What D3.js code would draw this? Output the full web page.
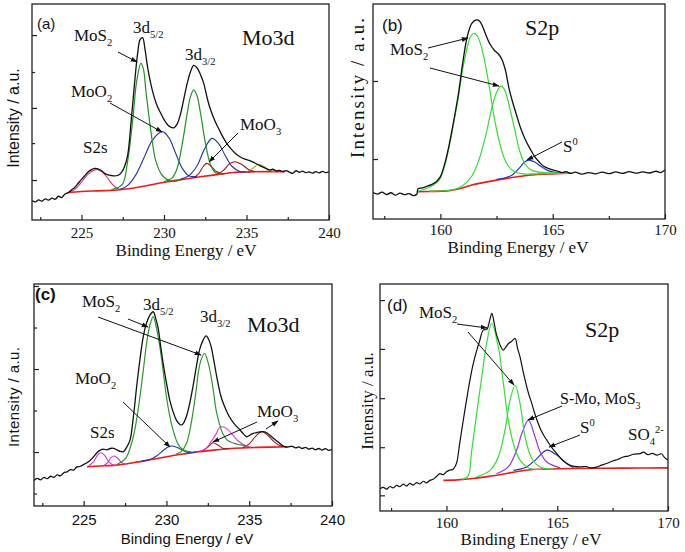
<!DOCTYPE html>
<html><head><meta charset="utf-8">
<script src="https://cdn.jsdelivr.net/npm/d3@7"></script>
<style>body{margin:0;background:#fff}</style>
</head><body>
<svg id="chart" width="685" height="552"></svg>
<script>
// ---------------- DATA ----------------
const xTicksMo = [225, 230, 235, 240];
const xMinorMo = [222.5, 227.5, 232.5, 237.5];
const xTicksS = [160, 165, 170];
const xMinorS = [157.5, 162.5, 167.5];
const xTickLabelsMo = ["225", "230", "235", "240"];
const xTickLabelsS = ["160", "165", "170"];

// panel (a) Mo3d
const aSpectrum = [[222.0,9.0],[222.2,8.4],[222.4,9.3],[222.6,8.7],[222.8,9.8],[223.0,9.2],[223.2,10.1],[223.4,9.6],[223.6,11.0],[223.8,10.4],[224.0,12.0],[224.2,12.6],[224.4,14.0],[224.6,15.2],[224.8,17.0],[225.0,18.8],[225.2,20.5],[225.4,22.2],[225.6,23.3],[225.8,23.9],[226.0,23.7],[226.2,22.9],[226.4,21.6],[226.6,20.9],[226.8,20.6],[227.0,20.4],[227.2,20.6],[227.4,21.8],[227.6,24.5],[227.8,30],[228.0,45],[228.2,62],[228.4,77],[228.55,83.5],[228.7,84.4],[228.85,79],[229.0,71],[229.2,63],[229.4,57],[229.6,52.5],[229.8,49.5],[230.0,46.5],[230.2,44.2],[230.4,43],[230.6,42.7],[230.8,44.5],[231.0,49],[231.2,56],[231.4,63],[231.6,68.5],[231.8,71.6],[232.0,70.5],[232.2,67.5],[232.4,63.5],[232.6,57],[232.8,51.5],[233.0,47.5],[233.2,44],[233.4,41],[233.6,38],[233.8,35.5],[234.0,33.5],[234.3,31],[234.6,29.3],[234.9,28.2],[235.2,27.5],[235.5,26.4],[235.8,25.2],[236.0,24.5],[236.2,23.8],[236.4,23.2],[236.6,23.5],[236.8,22.7],[237.0,23.0],[237.2,22.4],[237.4,22.9],[237.6,22.2],[237.8,21.6],[238.0,22.8],[238.2,22.1],[238.4,22.6],[238.6,21.9],[238.8,22.3],[239.0,21.7],[239.2,22.4],[239.4,21.8],[239.6,22.5],[239.8,21.9],[240.0,22.3]];
const aBaseline = [[224.1,12.6],[225,13.2],[226,13.5],[227,13.8],[228.1,14.7],[229,16.0],[230.2,17.7],[231.2,18.9],[232.2,20.0],[233.2,21.0],[234.2,22.0],[235.2,22.3],[236.3,22.4],[237.3,22.4]];
const aS2s = [[224.2,12.6],[224.6,14.2],[225.0,17.5],[225.4,21.2],[225.8,23.2],[226.0,23.3],[226.3,22.0],[226.6,19.2],[226.9,16.3],[227.2,14.5],[227.5,14.0]];
const aMoS2d52 = [[226.8,14],[227.2,15],[227.5,16.7],[227.8,27.3],[228.1,46],[228.35,64.5],[228.6,72.5],[228.75,70],[228.9,60],[229.2,41.4],[229.5,27.5],[229.9,20.6],[230.5,17.9],[231.0,18.6]];
const aMoS2d32 = [[230.0,17.8],[230.5,19.5],[230.8,24],[231.1,35],[231.4,49],[231.6,57],[231.8,60.2],[232.0,57.5],[232.2,50],[232.5,36],[232.8,26],[233.1,22],[233.5,21.2]];
const aMoO2a = [[227.3,14],[227.8,16],[228.3,21],[228.8,29],[229.3,37],[229.9,40.9],[230.3,38],[230.7,31],[231.1,24],[231.5,20.5],[232.0,20.1]];
const aMoO2b = [[231.0,18.9],[231.5,20.5],[232.0,25],[232.4,32],[232.9,37.8],[233.3,35.5],[233.7,30],[234.1,25],[234.6,22.5],[235.2,22.3]];
const aMoO3a = [[231.8,19.5],[232.1,21.5],[232.4,25],[232.6,26.2],[232.9,24.5],[233.2,22.3],[233.6,21.3]];
const aMoO3b = [[233.2,21],[233.6,23],[234.0,26.2],[234.3,27],[234.7,25.8],[235.1,23.5],[235.5,22.4]];
const aExtra = [[235.0,22.3],[235.4,24],[235.7,25.8],[236.0,25],[236.4,23],[236.8,22.4]];

// panel (b) S2p
const bSpectrum = [[157.0,12.3],[157.2,11.6],[157.4,12.5],[157.6,11.4],[157.8,12.2],[158.0,11.1],[158.2,12.0],[158.4,11.3],[158.6,11.8],[158.8,10.9],[158.95,11.5],[159.0,14.0],[159.2,14.5],[159.4,15.2],[159.6,16.0],[159.8,17.2],[160.0,19.7],[160.2,26],[160.4,35],[160.6,46],[160.8,58],[161.0,73],[161.2,85],[161.4,91],[161.6,92.6],[161.75,92],[161.9,89],[162.05,85],[162.2,81.5],[162.4,78.5],[162.6,76.5],[162.75,74],[162.9,69],[163.05,61],[163.2,55],[163.4,48],[163.6,41.5],[163.8,36.5],[164.0,32.5],[164.2,29],[164.4,26.5],[164.6,24.5],[164.8,23.5],[165.0,22.8],[165.2,22.3],[165.4,21.6],[165.6,22.0],[165.8,21.2],[166.0,21.8],[166.3,20.9],[166.6,21.6],[166.9,21.0],[167.2,21.8],[167.5,21.1],[167.8,21.9],[168.1,21.2],[168.4,22.0],[168.7,21.3],[169.0,21.9],[169.3,21.4],[169.6,22.2],[169.8,21.6],[170.0,22.8]];
const bBaseline = [[158.98,12.7],[159.5,12.8],[160.4,13.2],[160.9,14.2],[161.4,15.8],[162.2,17.5],[162.97,18.9],[163.6,19.9],[164.2,20.6],[165.0,21.0],[165.8,21.3]];
const bMoS2a = [[159.0,12.9],[159.4,14.2],[159.8,16.6],[160.0,19.0],[160.2,25],[160.4,34],[160.6,45],[160.8,56.5],[161.0,70],[161.2,80],[161.35,85],[161.5,86.4],[161.65,85],[161.8,81],[162.0,72],[162.2,60],[162.4,47],[162.6,37],[162.8,29.5],[163.0,25],[163.3,22],[163.7,21],[164.2,21],[164.8,21.2],[165.8,21.3]];
const bMoS2b = [[159.5,13.0],[160.5,13.5],[161.0,15.5],[161.4,20],[161.7,27],[162.0,38],[162.3,52],[162.55,60],[162.72,61.9],[162.9,59],[163.1,51],[163.3,42],[163.55,31],[163.8,25],[164.1,22.5],[164.6,21.6],[165.2,21.4],[165.8,21.3]];
const bS0 = [[162.5,18.5],[162.9,19.2],[163.2,20.5],[163.5,23.5],[163.75,26.5],[163.94,27.4],[164.2,26.5],[164.5,24.3],[164.8,22.5],[165.2,21.5],[165.8,21.3]];

// panel (c) Mo3d
const cSpectrum = [[222.0,11.5],[222.2,12.4],[222.4,11.8],[222.6,12.9],[222.8,12.3],[223.0,13.4],[223.2,12.9],[223.4,14.0],[223.6,13.6],[223.8,15.0],[224.0,15.4],[224.2,16.4],[224.4,16.2],[224.6,17.6],[224.8,17.9],[225.0,18.7],[225.2,19.5],[225.4,20.6],[225.6,22.2],[225.8,24],[226.0,25.2],[226.2,25.6],[226.4,25.3],[226.6,25.9],[226.8,26],[227.0,25.3],[227.2,24.6],[227.4,24.5],[227.6,26.5],[227.8,29.7],[228.0,40],[228.2,53.7],[228.4,66],[228.6,76.3],[228.8,82.5],[229.0,86],[229.2,87.5],[229.35,84.5],[229.5,80],[229.65,72],[229.8,64.3],[230.0,55.5],[230.2,47.7],[230.4,42.5],[230.6,38.7],[230.8,36.8],[230.9,36.5],[231.0,37],[231.2,40.2],[231.4,46],[231.6,53.7],[231.8,62.5],[232.0,70.3],[232.2,74.5],[232.4,76.6],[232.55,75],[232.7,71.8],[232.85,66],[233.0,59.8],[233.15,54],[233.3,49.2],[233.5,45],[233.8,40.2],[234.1,37],[234.45,34.2],[234.65,32.5],[234.85,31.2],[235.05,32],[235.25,32.7],[235.5,33.2],[235.86,33.5],[236.1,32.8],[236.46,30.5],[236.8,28.5],[237.06,27],[237.3,26.5],[237.6,26.9],[237.8,26.2],[238.0,26.6],[238.2,25.9],[238.4,26.4],[238.6,25.6],[238.8,26.1],[239.0,25.3],[239.2,25.9],[239.4,25.2],[239.6,25.8],[239.8,25.1],[240.0,25.5]];
const cBaseline = [[225.2,17.7],[226.0,18.0],[227.0,18.4],[228.0,19.5],[229.0,20.8],[230.0,22.2],[231.0,23.4],[232.0,24.5],[233.0,25.3],[234.1,26.0],[235.5,26.4],[237.3,26.7]];
const cMoS2d52 = [[227.0,18.6],[227.4,20.5],[227.6,22.2],[227.8,26],[228.0,31.2],[228.2,39],[228.4,49.2],[228.6,61],[228.8,73.3],[229.0,81.5],[229.2,85.3],[229.4,80],[229.6,71.8],[229.8,61],[230.0,49.2],[230.2,40.5],[230.4,34.2],[230.6,29.5],[230.8,26.7],[231.1,25],[231.5,24.4]];
const cMoS2d32 = [[230.6,23.5],[230.9,24.5],[231.2,28],[231.4,33.5],[231.6,42],[231.8,52.5],[231.95,61.3],[232.1,66],[232.3,68.8],[232.5,65],[232.7,58.2],[232.85,51],[233.0,43.2],[233.2,37],[233.4,32.7],[233.7,29.5],[234.1,28.2],[234.5,27.5],[234.9,27]];
const cMoO2 = [[228.5,20.2],[229.0,20.9],[229.4,22.5],[229.8,25],[230.1,26.6],[230.35,27],[230.7,26.2],[231.0,25],[231.4,24],[231.8,24.3]];
const cS2sA = [[225.3,18.0],[225.6,20],[225.85,23],[226.05,24],[226.3,22.5],[226.5,20],[226.8,18.5],[227.1,18.4]];
const cS2sB = [[226.2,18.1],[226.45,19.5],[226.65,21.8],[226.85,22.5],[227.05,21.5],[227.3,19.5],[227.6,18.8]];
const cMoO3pink = [[232.0,24.6],[232.4,26],[232.7,29],[233.0,32.5],[233.2,35.2],[233.4,35.7],[233.7,34.5],[234.0,32],[234.3,29.5],[234.7,27.5],[235.1,26.5]];
const cMoO3a = [[232.2,24.8],[232.5,26.5],[232.8,28.5],[233.1,27.5],[233.4,26],[233.8,25.8]];
const cMoO3b = [[234.6,26.2],[235.0,28],[235.4,31.5],[235.76,33.5],[236.1,32],[236.5,29],[236.9,27],[237.3,26.7]];

// panel (d) S2p
const dSpectrum = [[157.0,9.8],[157.15,10.4],[157.3,9.6],[157.45,10.8],[157.6,10.2],[157.75,11.3],[157.9,10.7],[158.05,11.8],[158.2,11.0],[158.35,12.2],[158.5,11.4],[158.65,12.5],[158.8,11.9],[158.95,13.1],[159.1,12.4],[159.25,13.5],[159.4,14.0],[159.55,15.2],[159.7,16.5],[159.85,16.0],[160.0,17.3],[160.15,18.0],[160.3,18.4],[160.45,20.9],[160.6,30],[160.76,40],[160.9,48.5],[161.06,57.7],[161.2,64.5],[161.37,70.9],[161.5,75],[161.66,79.7],[161.82,80],[161.95,84],[162.05,87.1],[162.15,83],[162.25,78],[162.34,75.3],[162.45,72.5],[162.57,70.9],[162.7,72.5],[162.8,73.8],[162.95,74.8],[163.1,76],[163.2,72],[163.32,67.9],[163.45,62],[163.55,57.7],[163.7,52],[163.85,47.4],[164.0,42.5],[164.2,37.1],[164.35,34],[164.53,31.2],[164.75,28],[164.98,25.3],[165.2,22.8],[165.43,20.9],[165.7,19.8],[166.03,19.4],[166.3,19.6],[166.5,19.0],[166.78,19.3],[167.0,20.2],[167.23,20.9],[167.5,22.0],[167.75,22.8],[167.98,23.8],[168.2,24.2],[168.45,25.0],[168.74,25.3],[168.9,25.9],[169.1,24.8],[169.3,25.4],[169.5,24.6],[169.7,25.2],[169.85,23.5],[170.0,22.4]];
const dBaseline = [[159.86,13.5],[160.5,13.7],[161.2,14.3],[162.0,15.4],[162.7,16.5],[163.3,17.5],[163.9,18.3],[165.7,18.7],[168.0,18.9],[170.0,19.0]];
const dMoS2a = [[160.7,14.0],[160.98,15.5],[161.13,25.8],[161.36,42.7],[161.59,58.9],[161.81,73.6],[162.04,82.6],[162.34,72.3],[162.57,56.2],[162.79,40.0],[163.02,29.7],[163.32,22.4],[163.77,18.7],[164.3,18.4]];
const dMoS2b = [[161.36,15],[161.97,17.9],[162.34,23.8],[162.64,35.6],[162.87,48.8],[163.1,55.4],[163.32,47.4],[163.55,32.6],[163.85,23.1],[164.23,19.4],[164.83,18.5]];
const dSMo = [[162.26,16.4],[162.79,19.4],[163.17,26.8],[163.4,34.1],[163.7,40],[164.0,32.6],[164.23,26],[164.53,21.6],[165.13,19.0]];
const dS0 = [[163.02,17.9],[163.62,19.4],[164.08,23.1],[164.53,26.8],[164.98,24.6],[165.43,20.9],[165.73,19.1]];

// y tick positions (intensity units, a.u.)
const aYMajor = [18.5, 51.9, 85.6], aYMinor = [35.6, 68.5];
const bYMajor = [27.9, 64.2], bYMinor = [];
const cYMajor = [24.3, 61.7, 99.1], cYMinor = [5.6, 43.0, 80.4];
const dYMajor = [6.9, 28.1, 49.7, 71.4, 92.9], dYMinor = [];

// ---------------- DRAW ----------------
const svg = d3.select("#chart");
const SERIF = "Liberation Serif";
const SANS = "Liberation Sans";

const defs = svg.append("defs");
defs.append("marker").attr("id","arr").attr("viewBox","0 0 10 10").attr("refX",9).attr("refY",5)
  .attr("markerWidth",7).attr("markerHeight",7).attr("orient","auto")
  .append("path").attr("d","M0,1.5 L10,5 L0,8.5 Z").attr("fill","#111");

function setFont(sel, family, size) {
  sel.attr("font-family", family).style("font-family", family)
     .attr("font-size", size).style("font-size", size + "px");
  return sel;
}

function rich(g, x, y, parts, size, family, weight) {
  const t = g.append("text").attr("x", x).attr("y", y).attr("fill", "#111");
  setFont(t, family, size);
  if (weight) t.style("font-weight", weight);
  let shift = 0;
  parts.forEach(p => {
    const s = typeof p === "string" ? {t: p} : p;
    let target = 0, fs = size;
    if (s.sub) { target = 0.3 * size; fs = 0.62 * size; }
    if (s.sup) { target = -0.42 * size; fs = 0.62 * size; }
    t.append("tspan").attr("dy", target - shift).style("font-size", fs + "px").text(s.t);
    shift = target;
  });
  return t;
}

const panels = [
  { id:"a", left:32, right:329, top:4, bottom:220, xd:[222,240], xt:xTicksMo, xl:xTickLabelsMo, xm:xMinorMo,
    ym:aYMajor, yn:aYMinor, tickFont:SERIF, tickBase:238, titleFont:SERIF, titleSize:17, titleX:186, titleBase:256,
    yFont:SANS, ySize:16, yX:19, yC:118, yLen:null,
    curves:[
      {d:aBaseline, c:"#ee1a1a", w:1.6},
      {d:aS2s, c:"#e0308a", w:1.1},
      {d:aMoO2a, c:"#2233aa", w:1.1},
      {d:aMoO2b, c:"#2233aa", w:1.1},
      {d:aMoO3a, c:"#a01515", w:1.1},
      {d:aMoO3b, c:"#a01515", w:1.1},
      {d:aExtra, c:"#b5a20a", w:1.1},
      {d:aMoS2d52, c:"#1f961f", w:1.2},
      {d:aMoS2d32, c:"#1f961f", w:1.2},
      {d:aSpectrum, c:"#111", w:1.3}
    ]},
  { id:"b", left:373, right:665, top:4, bottom:219, xd:[157,170], xt:xTicksS, xl:xTickLabelsS, xm:xMinorS,
    ym:bYMajor, yn:bYMinor, tickFont:SERIF, tickBase:235, titleFont:SERIF, titleSize:17, titleX:518, titleBase:253,
    yFont:SERIF, ySize:19, yX:364, yC:88, yLen:140,
    curves:[
      {d:bBaseline, c:"#ee1a1a", w:1.6},
      {d:bS0, c:"#1d2fd0", w:1.1},
      {d:bMoS2b, c:"#33dd33", w:1.2},
      {d:bMoS2a, c:"#33dd33", w:1.2},
      {d:bSpectrum, c:"#111", w:1.3}
    ]},
  { id:"c", left:34, right:332, top:284, bottom:506, xd:[222,240], xt:xTicksMo, xl:xTickLabelsMo, xm:xMinorMo,
    ym:cYMajor, yn:cYMinor, tickFont:SANS, tickBase:525, titleFont:SANS, titleSize:15, titleX:187, titleBase:544,
    yFont:SANS, ySize:15, yX:19, yC:397, yLen:100,
    curves:[
      {d:cBaseline, c:"#ee1a1a", w:1.6},
      {d:cS2sA, c:"#e030d0", w:1.1},
      {d:cS2sB, c:"#e030d0", w:1.1},
      {d:cMoO2, c:"#2233bb", w:1.1},
      {d:cMoO3a, c:"#a01818", w:1.1},
      {d:cMoO3b, c:"#a01818", w:1.1},
      {d:cMoO3pink, c:"#e838c8", w:1.1},
      {d:cMoS2d52, c:"#2a9a2a", w:1.2},
      {d:cMoS2d32, c:"#2a9a2a", w:1.2},
      {d:cSpectrum, c:"#111", w:1.3}
    ]},
  { id:"d", left:380, right:668, top:284, bottom:511, xd:[157,170], xt:xTicksS, xl:xTickLabelsS, xm:xMinorS,
    ym:dYMajor, yn:dYMinor, tickFont:SERIF, tickBase:528, titleFont:SERIF, titleSize:17, titleX:531, titleBase:545,
    yFont:SERIF, ySize:17, yX:373, yC:401, yLen:null,
    curves:[
      {d:dBaseline, c:"#ee1a1a", w:1.6},
      {d:dS0, c:"#2a2ab5", w:1.1},
      {d:dSMo, c:"#9933ee", w:1.2},
      {d:dMoS2b, c:"#33e033", w:1.2},
      {d:dMoS2a, c:"#33e033", w:1.2},
      {d:dSpectrum, c:"#111", w:1.2}
    ]}
];

panels.forEach(p => {
  const x = d3.scaleLinear().domain(p.xd).range([p.left, p.right]);
  const y = d3.scaleLinear().domain([0, 100]).range([p.bottom, p.top]);
  const g = svg.append("g");
  defs.append("clipPath").attr("id", "clip" + p.id).append("rect")
    .attr("x", p.left).attr("y", p.top).attr("width", p.right - p.left).attr("height", p.bottom - p.top);
  const line = d3.line().x(d => x(d[0])).y(d => y(d[1])).curve(d3.curveCatmullRom.alpha(0.5));
  const cg = g.append("g").attr("clip-path", "url(#clip" + p.id + ")");
  p.curves.forEach(c => {
    cg.append("path").attr("d", line(c.d)).attr("fill", "none").attr("stroke", c.c)
      .attr("stroke-width", c.w).attr("stroke-linejoin", "round");
  });
  g.append("rect").attr("x", p.left).attr("y", p.top).attr("width", p.right - p.left).attr("height", p.bottom - p.top)
    .attr("fill", "none").attr("stroke", "#222").attr("stroke-width", 1.3);
  const fs = 15;
  const xa = d3.axisBottom(x).tickValues(p.xt).tickSize(-5).tickPadding(p.tickBase - p.bottom - 0.71 * fs)
    .tickFormat((d, i) => p.xl[i]);
  const xg = g.append("g").attr("transform", `translate(0,${p.bottom})`).call(xa);
  xg.attr("font-family", null).attr("font-size", null);
  xg.select(".domain").remove();
  xg.selectAll("line").attr("stroke", "#222").attr("stroke-width", 1.2);
  setFont(xg.selectAll("text"), p.tickFont, fs).attr("fill", "#111");
  const xm = d3.axisBottom(x).tickValues(p.xm).tickSize(-3).tickFormat("");
  const xmg = g.append("g").attr("transform", `translate(0,${p.bottom})`).call(xm);
  xmg.select(".domain").remove();
  xmg.selectAll("line").attr("stroke", "#222").attr("stroke-width", 1.2);
  const ya = d3.axisLeft(y).tickValues(p.ym).tickSize(-5).tickFormat("");
  const yg = g.append("g").attr("transform", `translate(${p.left},0)`).call(ya);
  yg.select(".domain").remove();
  yg.selectAll("line").attr("stroke", "#222").attr("stroke-width", 1.2);
  const yn = d3.axisLeft(y).tickValues(p.yn).tickSize(-3).tickFormat("");
  const yng = g.append("g").attr("transform", `translate(${p.left},0)`).call(yn);
  yng.select(".domain").remove();
  yng.selectAll("line").attr("stroke", "#222").attr("stroke-width", 1.2);
  const xt = g.append("text").attr("x", p.titleX).attr("y", p.titleBase).attr("text-anchor", "middle")
    .attr("fill", "#111").text("Binding Energy / eV");
  setFont(xt, p.titleFont, p.titleSize);
  const yt = g.append("text").attr("transform", `translate(${p.yX},${p.yC}) rotate(-90)`).attr("text-anchor", "middle")
    .attr("fill", "#111").text("Intensity / a.u.");
  setFont(yt, p.yFont, p.ySize);
  if (p.yLen) yt.attr("textLength", p.yLen).attr("lengthAdjust", "spacing");
});

const A = svg.append("g");
function arrow(x1, y1, x2, y2) {
  A.append("line").attr("x1", x1).attr("y1", y1).attr("x2", x2).attr("y2", y2)
    .attr("stroke", "#111").attr("stroke-width", 1).attr("marker-end", "url(#arr)");
}

// panel a annotations
rich(A, 37, 29, ["(a)"], 15, SANS);
rich(A, 133, 33, ["3d", {t:"5/2", sub:true}], 17, SERIF);
rich(A, 74, 41, ["MoS", {t:"2", sub:true}], 17, SERIF);
rich(A, 242, 45, ["Mo3d"], 22, SERIF);
rich(A, 185, 60, ["3d", {t:"3/2", sub:true}], 17, SERIF);
rich(A, 71, 97, ["MoO", {t:"2", sub:true}], 17, SERIF);
rich(A, 240, 130, ["MoO", {t:"3", sub:true}], 17, SERIF);
rich(A, 83, 153, ["S2s"], 17, SERIF);
arrow(118, 52, 137, 62);
arrow(110, 103, 162, 132);
arrow(238, 133, 209, 162);

// panel b annotations
rich(A, 382, 31, ["(b)"], 17, SANS);
rich(A, 525, 35, ["S2p"], 22, SERIF);
rich(A, 390, 55, ["MoS", {t:"2", sub:true}], 17, SERIF);
rich(A, 563, 152, ["S", {t:"0", sup:true}], 17, SERIF);
arrow(428, 48, 468, 38);
arrow(430, 68, 499, 86);
arrow(562, 142, 527, 160);

// panel c annotations
rich(A, 35, 300, ["(c)"], 17, SANS, "bold");
rich(A, 82, 307, ["MoS", {t:"2", sub:true}], 17, SERIF);
rich(A, 143, 310, ["3d", {t:"5/2", sub:true}], 17, SERIF);
rich(A, 200, 322, ["3d", {t:"3/2", sub:true}], 17, SERIF);
rich(A, 247, 332, ["Mo3d"], 22, SERIF);
rich(A, 75, 384, ["MoO", {t:"2", sub:true}], 17, SERIF);
rich(A, 257, 417, ["MoO", {t:"3", sub:true}], 17, SERIF);
rich(A, 90, 438, ["S2s"], 17, SERIF);
arrow(128, 319, 148, 327);
arrow(98, 317, 201, 355);
arrow(123, 402, 170, 447);
arrow(257, 422, 213, 442);
arrow(266, 429, 278, 421);

// panel d annotations
rich(A, 387, 311, ["(d)"], 17, SANS);
rich(A, 419, 318, ["MoS", {t:"2", sub:true}], 17, SERIF);
rich(A, 585, 337, ["S2p"], 22, SERIF);
rich(A, 560, 404, ["S-Mo, MoS", {t:"3", sub:true}], 16, SERIF);
rich(A, 580, 433, ["S", {t:"0", sup:true}], 17, SERIF);
rich(A, 628, 440, ["SO", {t:"4", sub:true}, {t:"2-", sup:true}], 17, SERIF);
arrow(457, 324, 487, 328);
arrow(468, 332, 514, 385);
arrow(562, 406, 528, 420);
arrow(580, 435, 549, 447);
</script>
</body></html>
